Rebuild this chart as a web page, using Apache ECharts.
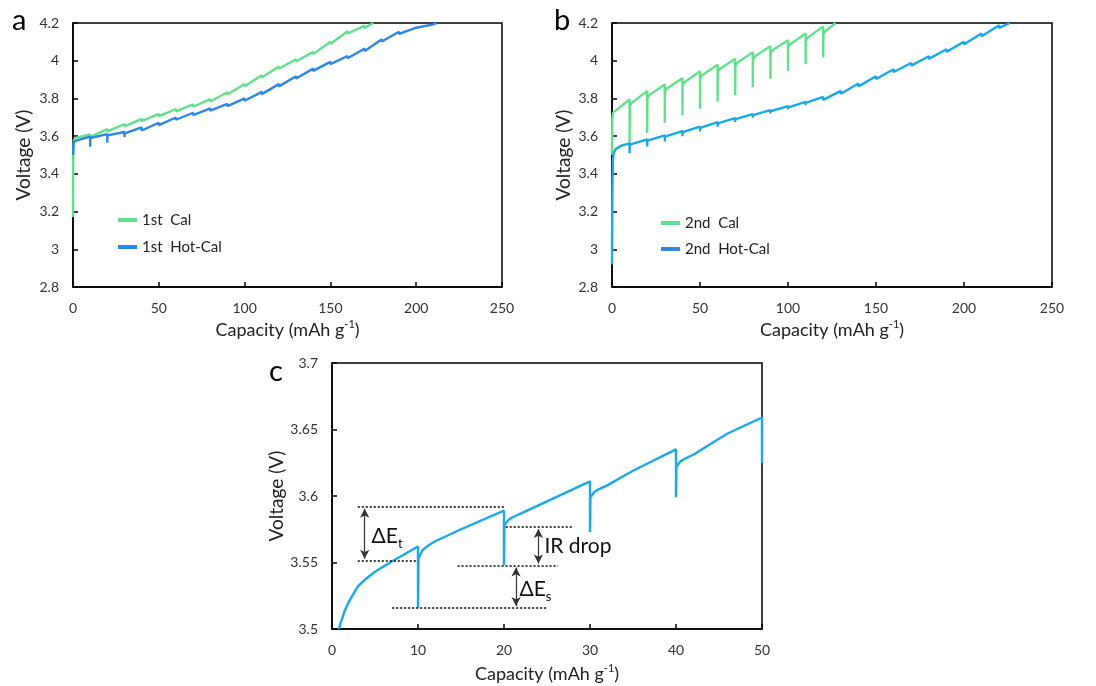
<!DOCTYPE html>
<html>
<head>
<meta charset="utf-8">
<script src="https://cdn.jsdelivr.net/npm/echarts@6/dist/echarts.min.js"></script>
<style>
html,body{margin:0;padding:0;background:#fff;}
#main{width:1096px;height:686px;}
</style>
</head>
<body>
<div id="main"></div>
<script>
// ---------- DATA ----------
// Panel a : [capacity (mAh/g), voltage (V)]
const calA = [[0,3.17],[0.15,3.50],[0.5,3.58],[2,3.592],[10,3.609],[10,3.596],[10.1,3.606],[20,3.637],[20,3.625],[20.1,3.634],[30,3.664],[30,3.652],[30.1,3.661],[40,3.692],[40,3.680],[40.1,3.689],[50,3.718],[50,3.706],[50.1,3.715],[60,3.743],[60,3.731],[60.1,3.740],[70,3.768],[70,3.756],[70.1,3.765],[80,3.796],[80,3.784],[80.1,3.793],[90,3.833],[90,3.821],[90.1,3.830],[100,3.877],[100,3.865],[100.1,3.874],[110,3.923],[110,3.911],[110.1,3.920],[120,3.969],[120,3.957],[120.1,3.966],[130,4.008],[130,3.996],[130.1,4.005],[140,4.047],[140,4.035],[140.1,4.044],[150,4.101],[150,4.089],[150.1,4.098],[160,4.156],[160,4.144],[160.1,4.153],[170,4.186],[170,4.174],[170.1,4.183],[175,4.2]];
const hotCalA = [[0,3.50],[0.3,3.56],[1,3.572],[5,3.585],[10,3.597],[10,3.544],[10.1,3.590],[20,3.611],[20,3.565],[20.1,3.604],[30,3.622],[30,3.595],[30.1,3.615],[40,3.646],[40,3.630],[40.1,3.640],[50,3.671],[50,3.658],[50.1,3.666],[60,3.699],[60,3.687],[60.1,3.695],[70,3.724],[70,3.712],[70.1,3.720],[80,3.747],[80,3.735],[80.1,3.743],[90,3.771],[90,3.759],[90.1,3.767],[100,3.800],[100,3.788],[100.1,3.796],[110,3.835],[110,3.823],[110.1,3.831],[120,3.876],[120,3.864],[120.1,3.872],[130,3.918],[130,3.906],[130.1,3.914],[140,3.958],[140,3.946],[140.1,3.954],[150,3.994],[150,3.982],[150.1,3.990],[160,4.025],[160,4.013],[160.1,4.021],[170,4.064],[170,4.052],[170.1,4.060],[180,4.114],[180,4.102],[180.1,4.110],[190,4.154],[190,4.142],[190.1,4.150],[200,4.175],[200,4.165],[200.1,4.172],[210,4.193],[210,4.183],[210.1,4.190],[212,4.2]];

// Panel b
const calB = [[0,3.50],[0.2,3.70],[0.6,3.725],[10,3.794],[10,3.555],[10.1,3.757],[11,3.775],[20,3.84],[20,3.618],[20.1,3.80],[21,3.817],[30,3.874],[30,3.671],[30.1,3.835],[31,3.851],[40,3.907],[40,3.711],[40.1,3.868],[41,3.884],[50,3.944],[50,3.747],[50.1,3.905],[51,3.921],[60,3.978],[60,3.782],[60.1,3.938],[61,3.955],[70,4.011],[70,3.817],[70.1,3.972],[71,3.988],[80,4.045],[80,3.861],[80.1,4.005],[81,4.022],[90,4.077],[90,3.904],[90.1,4.038],[91,4.054],[100,4.108],[100,3.946],[100.1,4.07],[101,4.086],[110,4.144],[110,3.981],[110.1,4.105],[111,4.121],[120,4.182],[120,4.017],[120.1,4.14],[121,4.155],[127,4.2]];
const hotCalB = [[0,2.92],[0.2,3.30],[0.5,3.47],[1,3.51],[2,3.53],[5,3.548],[10,3.562],[10,3.510],[10.1,3.555],[20,3.583],[20,3.545],[20.1,3.576],[30,3.604],[30,3.572],[30.1,3.598],[40,3.627],[40,3.600],[40.1,3.621],[50,3.650],[50,3.625],[50.1,3.644],[60,3.674],[60,3.650],[60.1,3.668],[70,3.696],[70,3.675],[70.1,3.690],[80,3.717],[80,3.698],[80.1,3.711],[90,3.738],[90,3.720],[90.1,3.732],[100,3.759],[100,3.742],[100.1,3.753],[110,3.782],[110,3.765],[110.1,3.776],[120,3.808],[120,3.792],[120.1,3.802],[130,3.840],[130,3.825],[130.1,3.834],[140,3.879],[140,3.864],[140.1,3.873],[150,3.918],[150,3.903],[150.1,3.912],[160,3.955],[160,3.940],[160.1,3.949],[170,3.988],[170,3.974],[170.1,3.982],[180,4.024],[180,4.010],[180.1,4.018],[190,4.061],[190,4.047],[190.1,4.055],[200,4.101],[200,4.087],[200.1,4.095],[210,4.144],[210,4.130],[210.1,4.138],[220,4.188],[220,4.174],[220.1,4.182],[226,4.2]];

// Panel c
const curveC = [[0.8,3.5],[1,3.5045],[1.5,3.514],[2,3.521],[3,3.532],[4,3.538],[5,3.543],[7,3.551],[10,3.562],[10,3.516],[10.05,3.553],[10.5,3.559],[11,3.562],[12,3.566],[15,3.575],[20,3.589],[20,3.548],[20.05,3.578],[20.5,3.582],[21,3.584],[22,3.587],[25,3.596],[30,3.611],[30,3.573],[30.05,3.599],[30.5,3.603],[31,3.605],[32,3.608],[35,3.619],[40,3.635],[40,3.599],[40.05,3.622],[40.5,3.626],[41,3.628],[42,3.631],[46,3.647],[50,3.659],[50,3.625]];

// Panel c annotations (data coordinates)
const dottedLines = [[[3,3.5922],[20.2,3.5922]],[[3,3.5514],[10,3.5514]],[[20.2,3.5767],[27.9,3.5767]],[[14.6,3.5476],[26.3,3.5476]],[[7,3.5158],[25.1,3.5158]]];
const arrows = [[[3.8,3.5905],[3.8,3.5528]],[[24.0,3.5752],[24.0,3.5492]],[[21.4,3.5462],[21.4,3.5172]]];
const annoTexts = [{at:[4.6,3.5697], text:'ΔE{sub|t}'},{at:[24.7,3.5625], text:'IR drop'},{at:[21.8,3.5296], text:'ΔE{sub|s}'}];

// Axis settings
const xTicksAB = {min:0, max:250, interval:50};
const yTicksAB = {min:2.8, max:4.2, interval:0.2};
const xTicksC = {min:0, max:50, interval:10};
const yTicksC = {min:3.5, max:3.7, interval:0.05};

const panelLetters = ['a','b','c'];
const seriesNames = ['1st  Cal','1st  Hot-Cal','2nd  Cal','2nd  Hot-Cal'];

// ---------- STYLE ----------
const FONT = 'Lato, "Open Sans", "DejaVu Sans", sans-serif';
const GREEN = '#62e08c';
const BLUE = '#2d86e8';
const CYAN = '#19a8e8';

const capName = 'Capacity (mAh g{sup|-1})';
const nameStyle = {fontFamily: FONT, fontSize: 18, color: '#222', lineHeight: 22,
  rich: {sup: {fontFamily: FONT, fontSize: 11, color: '#222', verticalAlign: 'top', lineHeight: 22}}};

function xAxis(idx, t, gap) {
  return {type:'value', gridIndex: idx, min:t.min, max:t.max, interval:t.interval,
    name: capName, nameLocation:'middle', nameGap: gap, nameTextStyle: nameStyle,
    axisLine:{show:true, onZero:false, lineStyle:{color:'#000', width:1.5}},
    axisTick:{show:true, inside:true, length:5, lineStyle:{color:'#000', width:1.5}},
    axisLabel:{fontFamily:FONT, fontSize:14, color:'#333', margin:14},
    splitLine:{show:false}};
}
function yAxis(idx, t, gap) {
  return {type:'value', gridIndex: idx, min:t.min, max:t.max, interval:t.interval,
    name: 'Voltage (V)', nameLocation:'middle', nameGap: gap, nameRotate: 90,
    nameTextStyle: {fontFamily: FONT, fontSize: 19, color: '#222'},
    axisLine:{show:true, onZero:false, lineStyle:{color:'#000', width:1.5}},
    axisTick:{show:true, inside:true, length:5, lineStyle:{color:'#000', width:1.5}},
    axisLabel:{fontFamily:FONT, fontSize:14, color:'#333', margin:14},
    splitLine:{show:false}};
}
function lineSeries(name, data, xi, color, iconColor) {
  return {type:'line', name, data, xAxisIndex:xi, yAxisIndex:xi, showSymbol:false, symbol:'none',
    lineStyle:{color, width:2.4}, itemStyle:{color: iconColor || color}, silent:true};
}

const markLineData = [];
dottedLines.forEach(l => markLineData.push([
  {coord:l[0], symbol:'none', lineStyle:{type:[2,2], color:'#000', width:1.5}},
  {coord:l[1], symbol:'none'}]));
arrows.forEach(l => markLineData.push([
  {coord:l[0], symbol:'arrow', symbolSize:[7,9], lineStyle:{type:'solid', color:'#333', width:1.2}},
  {coord:l[1], symbol:'arrow', symbolSize:[7,9]}]));

const markPointData = annoTexts.map(a => ({coord:a.at, symbol:'circle', symbolSize:0,
  label:{show:true, position:'right', distance:0, formatter:a.text, fontFamily:FONT, fontSize:21,
    color:'#111', lineHeight:28, rich:{sub:{fontFamily:FONT, fontSize:13, color:'#111', verticalAlign:'bottom', lineHeight:28}}}}));

const option = {
  animation:false,
  backgroundColor:'#fff',
  grid:[
    {left:73, top:23, width:429, height:264, show:true, borderColor:'#000', borderWidth:1.5, backgroundColor:'transparent'},
    {left:612, top:23, width:440, height:264, show:true, borderColor:'#000', borderWidth:1.5, backgroundColor:'transparent'},
    {left:332, top:363, width:430, height:266, show:true, borderColor:'#000', borderWidth:1.5, backgroundColor:'transparent'}
  ],
  xAxis:[xAxis(0, xTicksAB, 32), xAxis(1, xTicksAB, 32), xAxis(2, xTicksC, 34)],
  yAxis:[yAxis(0, yTicksAB, 40), yAxis(1, yTicksAB, 39), yAxis(2, yTicksC, 45)],
  legend:[
    {data:[seriesNames[0], seriesNames[1]], left:113, top:206, orient:'vertical', icon:'rect',
     itemWidth:19, itemHeight:4, itemGap:9, selectedMode:false,
     textStyle:{fontFamily:FONT, fontSize:15, color:'#222', lineHeight:18}},
    {data:[seriesNames[2], seriesNames[3]], left:656, top:209, orient:'vertical', icon:'rect',
     itemWidth:19, itemHeight:4, itemGap:8, selectedMode:false,
     textStyle:{fontFamily:FONT, fontSize:15, color:'#222', lineHeight:18}}
  ],
  series:[
    lineSeries(seriesNames[0], calA, 0, GREEN),
    lineSeries(seriesNames[1], hotCalA, 0, BLUE),
    lineSeries(seriesNames[2], calB, 1, GREEN),
    lineSeries(seriesNames[3], hotCalB, 1, CYAN, BLUE),
    Object.assign(lineSeries('c', curveC, 2, CYAN), {
      markLine:{silent:true, symbol:['none','none'], label:{show:false}, data:markLineData},
      markPoint:{silent:true, data:markPointData}
    })
  ],
  graphic:[
    {type:'text', left:12, top:6, style:{text:panelLetters[0], fontFamily:FONT, fontSize:29, fill:'#000'}},
    {type:'text', left:554, top:6, style:{text:panelLetters[1], fontFamily:FONT, fontSize:29, fill:'#000'}},
    {type:'text', left:269, top:357, style:{text:panelLetters[2], fontFamily:FONT, fontSize:29, fill:'#000'}}
  ]
};
const chart = echarts.init(document.getElementById('main'), null, {renderer:'canvas'});
chart.setOption(option);
</script>
</body>
</html>
